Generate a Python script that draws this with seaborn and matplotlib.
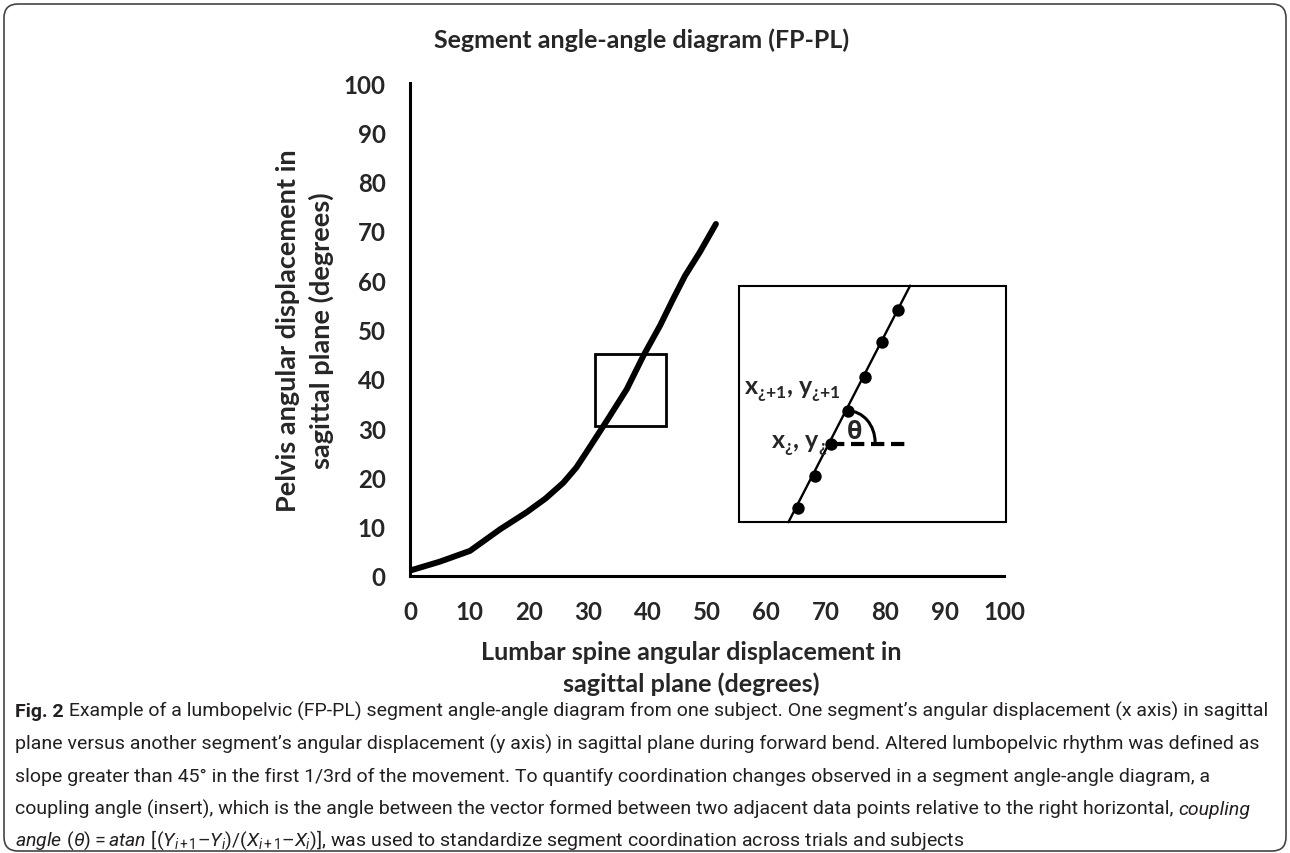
import matplotlib
matplotlib.use("Agg")
import matplotlib.pyplot as plt
import seaborn as sns
import pandas as pd
from matplotlib import patches, font_manager

# curve (lumbar x, pelvis y, degrees)
lumbar = [0, 5.0, 10.1, 15.2, 19.6, 22.8, 25.8, 28.0, 29.7, 33.3, 36.5, 39.3, 42.1, 44.3, 46.3, 48.8, 51.5]
pelvis = [1.1, 2.9, 5.1, 9.5, 12.9, 15.7, 18.9, 22.0, 25.1, 31.8, 37.9, 44.7, 50.8, 56.2, 60.9, 65.7, 71.4]

# insert (zoomed view) drawn in the same data space
insert_line_x = [63.7, 84.2]
insert_line_y = [10.9, 58.9]
insert_dots_x = [65.3, 68.2, 70.8, 73.7, 76.6, 79.4, 82.1]
insert_dots_y = [13.7, 20.2, 26.8, 33.5, 40.3, 47.4, 54.0]

ticks = list(range(0, 101, 10))

title = "Segment angle-angle diagram (FP-PL)"
xlabel = "Lumbar spine angular displacement in\nsagittal plane (degrees)"
ylabel = "Pelvis angular displacement in\nsagittal plane (degrees)"

caption_lines = [
    " Example of a lumbopelvic (FP-PL) segment angle-angle diagram from one subject. One segment\u2019s angular displacement (x axis) in sagittal",
    "plane versus another segment\u2019s angular displacement (y axis) in sagittal plane during forward bend. Altered lumbopelvic rhythm was defined as",
    "slope greater than 45\u00b0 in the first 1/3rd of the movement. To quantify coordination changes observed in a segment angle-angle diagram, a",
    "coupling angle (insert), which is the angle between the vector formed between two adjacent data points relative to the right horizontal, ",
]
caption_last = (r"$angle\ (\theta) = atan\ [(Y_{i\,{+}\,1}$" + "\u2013" + r"$Y_i)/(X_{i\,{+}\,1}$" + "\u2013"
                + r"$X_i)]$, was used to standardize segment coordination across trials and subjects")

sns.set_theme(style="white")
installed = {f.name for f in font_manager.fontManager.ttflist}
cap_font = "Liberation Sans Narrow" if "Liberation Sans Narrow" in installed else "Roboto"
plt.rcParams["font.family"] = ["Lato", "DejaVu Sans"]
plt.rcParams["mathtext.fontset"] = "custom"
plt.rcParams["mathtext.rm"] = cap_font
plt.rcParams["mathtext.it"] = cap_font + ":italic"
plt.rcParams["mathtext.bf"] = "Lato:bold"

fig = plt.figure(figsize=(12.9, 8.54), dpi=100)
ax = fig.add_axes([410 / 1290, 1 - 577 / 854, 594 / 1290, 493 / 854])

df = pd.DataFrame({"lumbar": lumbar, "pelvis": pelvis})
sns.lineplot(data=df, x="lumbar", y="pelvis", color="black", linewidth=4.3,
             estimator=None, sort=False, ax=ax, solid_capstyle="round", solid_joinstyle="round")

# small box around the zoomed region
ax.add_patch(patches.Rectangle((31.1, 30.5), 12.0, 14.5, fill=False, lw=2.0, ec="black"))
# insert box
ax.add_patch(patches.Rectangle((55.4, 11.0), 44.9, 47.8, fill=False, lw=1.5, ec="black", clip_on=False))
sns.lineplot(x=insert_line_x, y=insert_line_y, color="black", linewidth=1.7,
             estimator=None, sort=False, ax=ax)
sns.scatterplot(x=insert_dots_x, y=insert_dots_y, color="black", s=80, edgecolor="black",
                linewidth=0, ax=ax, zorder=5)
ax.plot([insert_dots_x[2], 84.2], [insert_dots_y[2]] * 2, color="black", lw=3,
        dashes=(3.2, 1.6), dash_capstyle="butt")
ax.add_patch(patches.Arc((73.7, 27.1), 9.2, 12.8, theta1=0, theta2=90, lw=2.2, color="black"))
ax.text(74.8, 29.3, "\u03b8", fontsize=18, fontweight="bold", family=["Open Sans", "DejaVu Sans"],
        ha="center", va="center")
ax.text(72.5, 36.9, "x$_\\mathbf{¿{+}1}$, y$_\\mathbf{¿{+}1}$", fontsize=18, fontweight="bold",
        ha="right", va="baseline")
ax.text(70.3, 26.0, "x$_\\mathbf{¿}$, y$_\\mathbf{¿}$", fontsize=18, fontweight="bold",
        ha="right", va="baseline")

ax.set_xlim(0, 100)
ax.set_ylim(0, 100)
ax.set_xticks(ticks)
ax.set_yticks(ticks)
for s in ["top", "right"]:
    ax.spines[s].set_visible(False)
for s in ["left", "bottom"]:
    ax.spines[s].set_linewidth(2.2)
    ax.spines[s].set_color("black")
ax.tick_params(axis="both", direction="out", length=4.5, width=2.2, color="black",
               labelsize=17.3, pad=13)
for lab in ax.get_xticklabels() + ax.get_yticklabels():
    lab.set_fontweight("bold")

ax.set_xlabel(xlabel, fontsize=18.2, fontweight="bold", linespacing=1.4)
ax.set_ylabel(ylabel, fontsize=19.5, fontweight="bold", linespacing=1.4)
ax.xaxis.label.set_va("center")
ax.yaxis.label.set_va("center")
ax.xaxis.set_label_coords(0.473, -0.186)
ax.yaxis.set_label_coords(-0.177, 0.50)

fig.text(0.497, 1 - 40 / 854, title, fontsize=18, fontweight="bold", ha="center", va="center")

# caption
cap_kw = dict(fontsize=14, family=[cap_font, "DejaVu Sans"], color="#231f20")
baselines = [717, 750, 782, 815, 846]
x0 = 15 / 1290
first = fig.text(x0, 1 - baselines[0] / 854, "Fig. 2", fontweight="bold", va="baseline", **cap_kw)
fig.canvas.draw()
ax.annotate(caption_lines[0], xy=(1, 0), xycoords=first, va="bottom", ha="left",
            annotation_clip=False, **cap_kw)
for line, b in zip(caption_lines[1:], baselines[1:4]):
    t = fig.text(x0, 1 - b / 854, line, va="baseline", **cap_kw)
fig.canvas.draw()
ax.annotate("coupling", xy=(1, 0), xycoords=t, va="bottom", ha="left", style="italic",
            annotation_clip=False, **cap_kw)
fig.text(x0, 1 - baselines[4] / 854, caption_last, va="baseline", **cap_kw)

# rounded frame around the whole figure
fig.patches.append(patches.FancyBboxPatch((4, 2), 1282, 847, boxstyle="round,pad=0,rounding_size=14",
                                          transform=None, fill=False, ec="#444444", lw=1.2))

fig.savefig("out.png", dpi=100)
